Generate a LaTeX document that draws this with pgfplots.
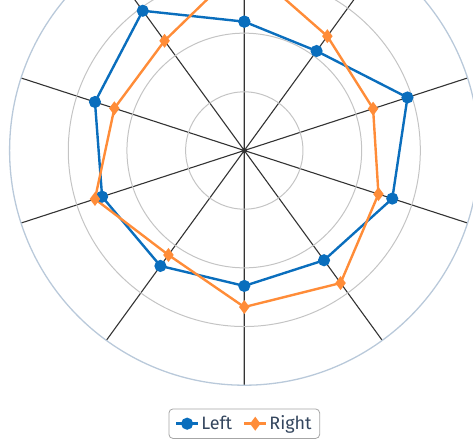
\documentclass[border=0pt]{standalone}
\usepackage{pgfplots}
\pgfplotsset{compat=1.18}
\usepgfplotslibrary{polar}
\usepackage{fontspec}
\setmainfont{Fira Sans}

\definecolor{leftblue}{HTML}{0A6EBD}
\definecolor{rightorange}{HTML}{FF8C38}
\definecolor{ringgray}{HTML}{C4C4C4}
\definecolor{outerring}{HTML}{B9C9DA}
\definecolor{spoke}{HTML}{333333}
\definecolor{legtext}{HTML}{34465E}

\begin{document}
\begin{tikzpicture}
    \useasboundingbox (-244.3bp,-293.5bp) rectangle (228.7bp,150.5bp);
    \clip (-244.3bp,-293.5bp) rectangle (228.7bp,150.5bp);
    \begin{polaraxis}[
        at={(0,0)}, anchor=center,
        scale only axis,
        width=469.4bp, height=469.4bp,
        ymin=0, ymax=100,
        xtick={18,54,...,342},
        ytick={25,50,75},
        xticklabels={}, yticklabels={},
        major tick length=0pt,
        grid=both,
        x grid style={spoke, line width=1.1bp},
        y grid style={ringgray, line width=1bp},
        separate axis lines,
        x axis line style={outerring, line width=1.3bp},
        y axis line style={draw=none},
        legend columns=2,
        legend image code/.code={
            \draw[mark repeat=2, mark phase=2]
                plot coordinates {(0bp,0bp) (11bp,0bp) (22bp,0bp)};},
        legend style={
            at={(0.5,-0.082)}, anchor=center,
            draw=gray!70, rounded corners=4bp, line width=0.8bp,
            font=\fontsize{18}{21}\selectfont,
            text=legtext,
            inner xsep=6bp, inner ysep=5bp,
            /tikz/every even column/.append style={column sep=9bp},
        },
    ]

    % clockwise from the top spoke; first point repeated to close the shape
    \addplot[leftblue, line width=2.4bp, mark=*, mark size=4.8bp,
        mark options={solid, fill=leftblue, draw=leftblue}] coordinates {
        (90, 54.9)
        (54, 52.4)
        (18, 73.1)
        (-18, 66.3)
        (-54, 57.8)
        (-90, 57.7)
        (-126, 60.8)
        (-162, 63.7)
        (162, 66.9)
        (126, 73.6)
        (90, 54.9)
    };
    \addlegendentry{Left}

    \addplot[rightorange, line width=2.4bp, mark=diamond*, mark size=5bp,
        mark options={solid, fill=rightorange, draw=rightorange}] coordinates {
        (90, 79.7)
        (54, 60.2)
        (18, 57.7)
        (-18, 60.1)
        (-54, 69.8)
        (-90, 66.7)
        (-126, 55.0)
        (-162, 66.9)
        (162, 58.2)
        (126, 57.8)
        (90, 79.7)
    };
    \addlegendentry{Right}

    \end{polaraxis}
\end{tikzpicture}
\end{document}
